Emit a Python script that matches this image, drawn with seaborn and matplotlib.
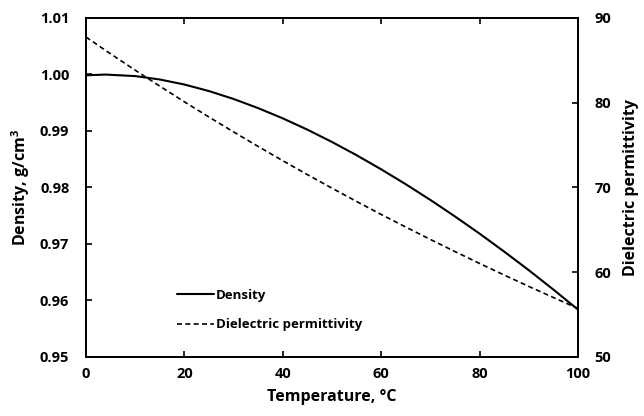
import pandas as pd
from matplotlib import pyplot as plt
from matplotlib.lines import Line2D
import seaborn as sns

# water: density and dielectric permittivity vs temperature
temperature = [0, 4, 10, 15, 20, 25, 30, 35, 40, 45, 50, 55, 60, 65, 70, 75, 80, 85, 90, 95, 100]
density = [0.99984, 0.99997, 0.99970, 0.99910, 0.99821, 0.99705, 0.99565, 0.99403, 0.99222,
           0.99022, 0.98804, 0.98570, 0.98320, 0.98056, 0.97778, 0.97486, 0.97182, 0.96864,
           0.96535, 0.96192, 0.95838]
temp_eps = [0, 5, 10, 15, 20, 25, 30, 35, 40, 45, 50, 55, 60, 65, 70, 75, 80, 85, 90, 95, 100]
permittivity = [87.74, 85.76, 83.83, 81.95, 80.10, 78.30, 76.55, 74.83, 73.15, 71.51, 69.91,
                68.34, 66.81, 65.32, 63.86, 62.43, 61.03, 59.66, 58.32, 57.01, 55.72]

df_d = pd.DataFrame({'t': temperature, 'rho': density})
df_e = pd.DataFrame({'t': temp_eps, 'eps': permittivity})

sns.set_style('ticks')
plt.rcParams['font.family'] = ['Open Sans', 'DejaVu Sans']
plt.rcParams['font.weight'] = 'bold'
plt.rcParams['text.color'] = 'black'
plt.rcParams['axes.labelcolor'] = 'black'
plt.rcParams['mathtext.fontset'] = 'custom'
plt.rcParams['mathtext.bf'] = 'Open Sans:bold'

fig = plt.figure(figsize=(6.44, 4.16), dpi=100)
ax = fig.add_axes([0.1335, 0.142, 0.764, 0.815])
ax2 = ax.twinx()

sns.lineplot(ax=ax, data=df_d, x='t', y='rho', color='black', linewidth=1.5)
sns.lineplot(ax=ax2, data=df_e, x='t', y='eps', color='black', linewidth=1.2,
             linestyle=(0, (3, 2)))

ax.set_xlim(0, 100)
ax.set_ylim(0.95, 1.01)
ax2.set_ylim(50, 90)
ax.set_xticks([0, 20, 40, 60, 80, 100])
ax.set_yticks([0.95, 0.96, 0.97, 0.98, 0.99, 1.00, 1.01])
ax.set_yticklabels(['%.2f' % v for v in ax.get_yticks()])
ax2.set_yticks([50, 60, 70, 80, 90])

for a in (ax, ax2):
    for s in a.spines.values():
        s.set_linewidth(1.3)
        s.set_color('black')
ax.tick_params(axis='both', direction='in', length=4, width=1.2, labelsize=10.5,
               pad=7, top=True, colors='black')
ax.tick_params(axis='y', pad=12)
ax2.tick_params(axis='y', direction='in', length=4, width=1.2, labelsize=10.5, pad=12,
                colors='black')
for lab in ax.get_xticklabels() + ax.get_yticklabels() + ax2.get_yticklabels():
    lab.set_fontweight('bold')

ax.set_xlabel('Temperature, °C', fontsize=11.5, fontweight='bold', labelpad=6)
ax.set_ylabel('Density, g/cm$^\\mathbf{3}$', fontsize=11.5, fontweight='bold', labelpad=6)
ax2.set_ylabel('Dielectric permittivity', fontsize=11.5, fontweight='bold', labelpad=8)

handles = [Line2D([], [], color='black', linewidth=1.5),
           Line2D([], [], color='black', linewidth=1.2, linestyle=(0, (3, 2)))]
ax.legend(handles, ['Density', 'Dielectric permittivity'], loc='lower left',
          bbox_to_anchor=(0.16, 0.04), frameon=False, handlelength=2.8,
          handletextpad=0.2, labelspacing=1.25, prop={'weight': 'bold', 'size': 9.5})

fig.savefig('out.png', dpi=100)
